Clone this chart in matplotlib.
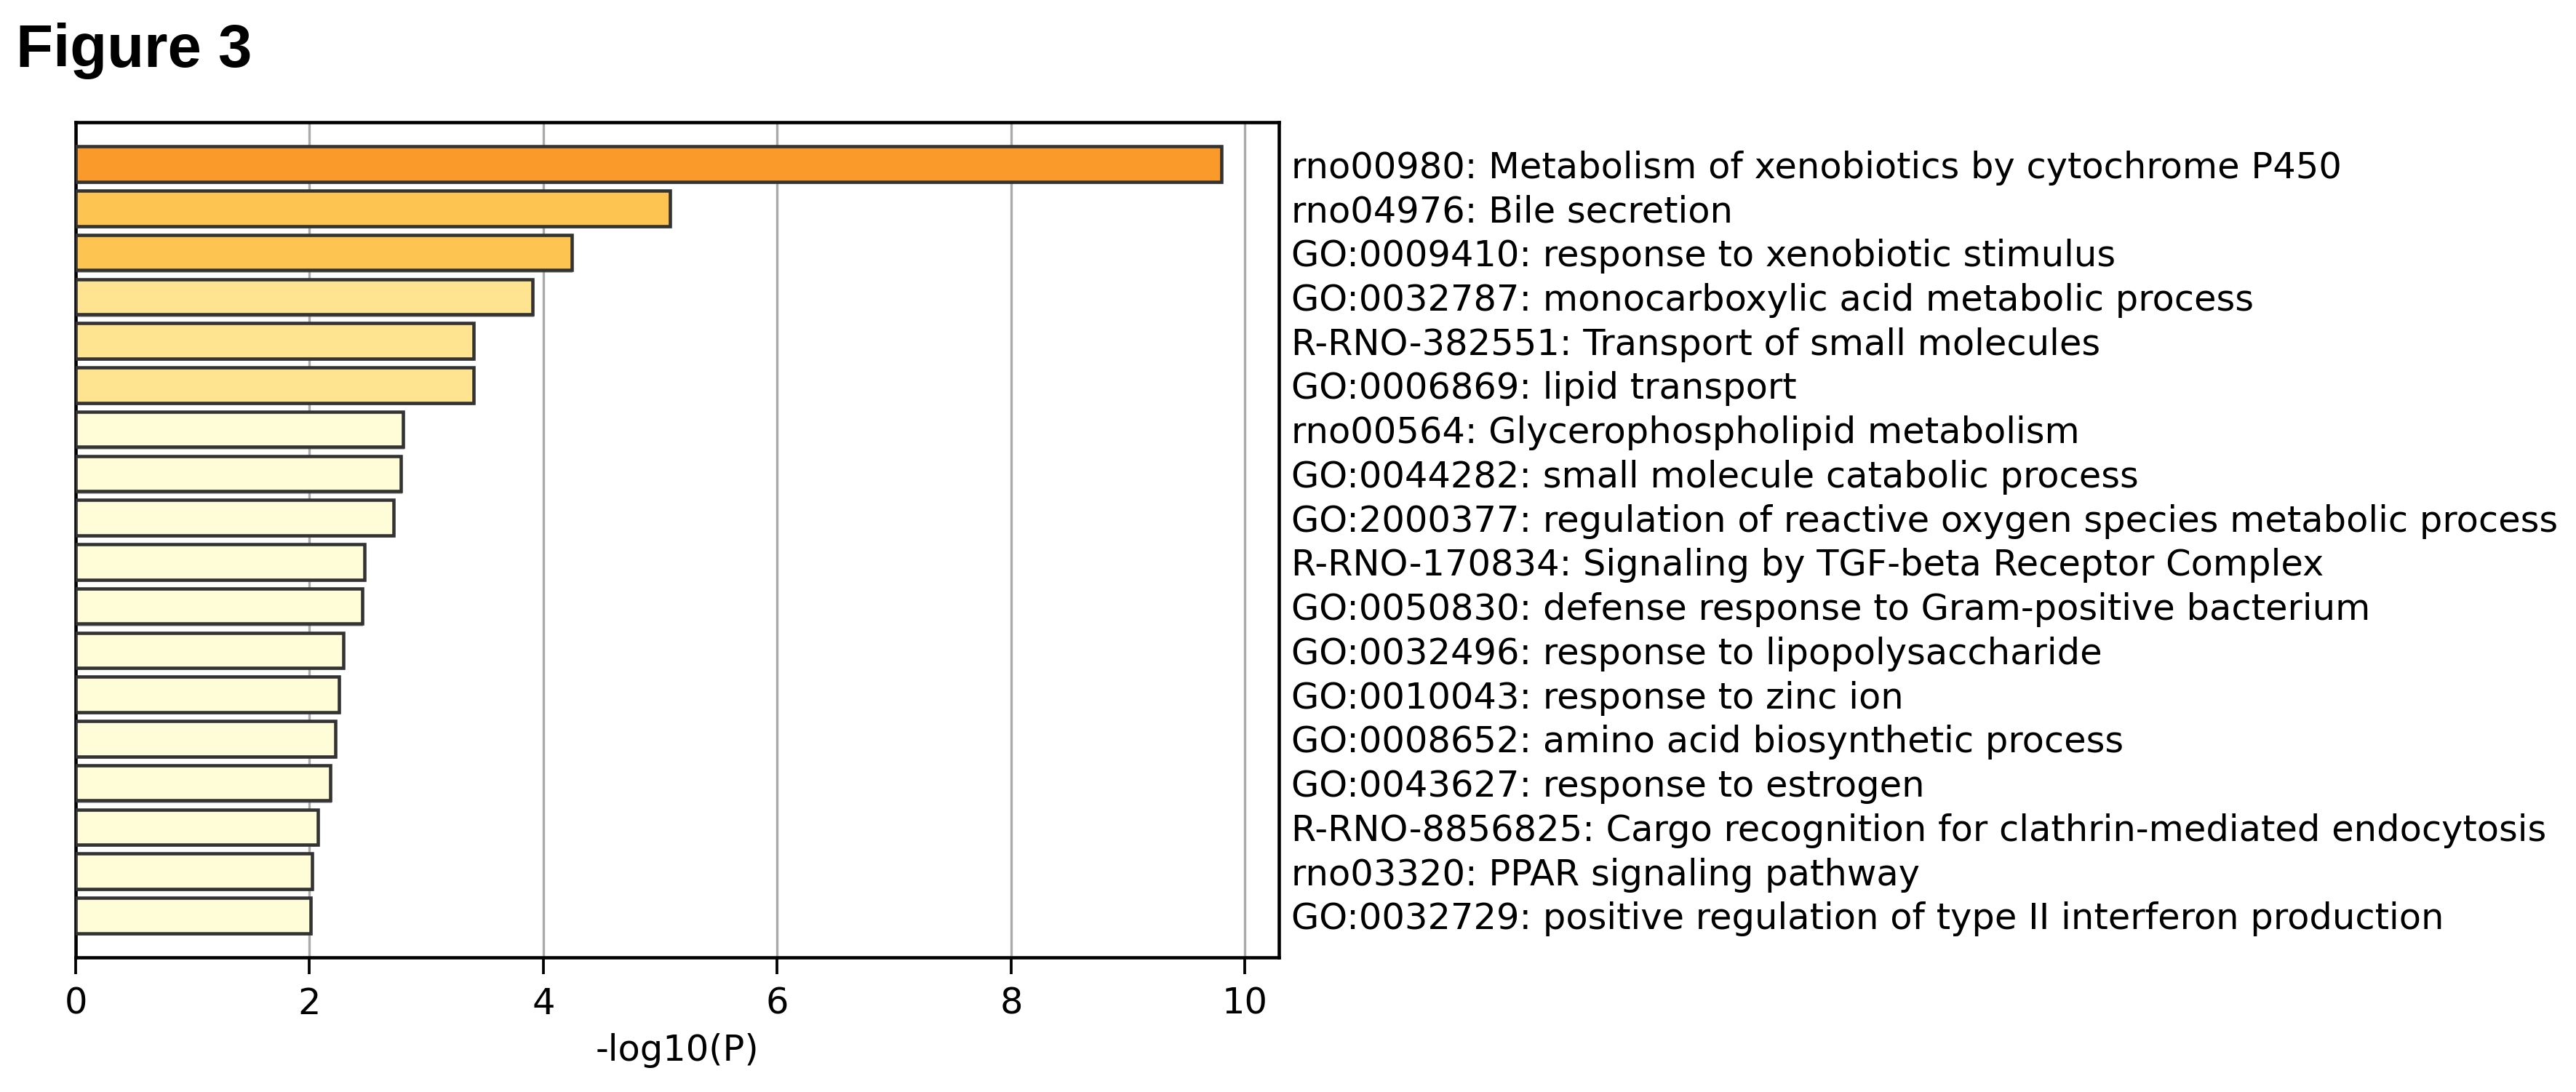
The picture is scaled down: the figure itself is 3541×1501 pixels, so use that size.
import numpy as np
import matplotlib
matplotlib.use("Agg")
import matplotlib.pyplot as plt
import matplotlib.patheffects as pe

# enrichment terms, top to bottom
terms = [
    "rno00980: Metabolism of xenobiotics by cytochrome P450",
    "rno04976: Bile secretion",
    "GO:0009410: response to xenobiotic stimulus",
    "GO:0032787: monocarboxylic acid metabolic process",
    "R-RNO-382551: Transport of small molecules",
    "GO:0006869: lipid transport",
    "rno00564: Glycerophospholipid metabolism",
    "GO:0044282: small molecule catabolic process",
    "GO:2000377: regulation of reactive oxygen species metabolic process",
    "R-RNO-170834: Signaling by TGF-beta Receptor Complex",
    "GO:0050830: defense response to Gram-positive bacterium",
    "GO:0032496: response to lipopolysaccharide",
    "GO:0010043: response to zinc ion",
    "GO:0008652: amino acid biosynthetic process",
    "GO:0043627: response to estrogen",
    "R-RNO-8856825: Cargo recognition for clathrin-mediated endocytosis",
    "rno03320: PPAR signaling pathway",
    "GO:0032729: positive regulation of type II interferon production",
]
logp = [9.80, 5.08, 4.24, 3.91, 3.40, 3.40, 2.80, 2.78, 2.72,
        2.47, 2.45, 2.29, 2.25, 2.22, 2.18, 2.07, 2.02, 2.01]

# colour class per bar (by significance bin)
bins = [0, 1, 1, 2, 2, 2, 3, 3, 3, 3, 3, 3, 3, 3, 3, 3, 3, 3]
palette = ["#F99A2B", "#FDC452", "#FEE391", "#FFFDD8"]

fig = plt.figure(figsize=(3541 / 300, 1501 / 300), dpi=300)
ax = fig.add_axes([104 / 3541, 1 - 1316 / 1501, (1758 - 104) / 3541, (1316 - 168) / 1501])

ypos = np.arange(len(terms))
colors = [palette[b] for b in bins]
bars = ax.barh(ypos, logp, height=0.8, color=colors, edgecolor="#333333",
               linewidth=1.1, zorder=3)
for b in bars:
    b.set_path_effects([pe.SimplePatchShadow(offset=(0.4, -0.8), shadow_rgbFace="#555555", alpha=0.45),
                        pe.Normal()])

ax.set_ylim(len(terms) - 0.05, -0.95)
ax.set_xlim(0, max(logp) * 1.05)
ax.set_xticks([0, 2, 4, 6, 8, 10])
ax.xaxis.grid(True, color="#aaaaaa", linewidth=0.8, zorder=0)
ax.set_axisbelow(True)

ax.yaxis.tick_right()
ax.set_yticks(ypos)
ax.set_yticklabels(terms, fontsize=11.9)
ax.tick_params(axis="y", length=0, pad=4)
ax.tick_params(axis="x", labelsize=11.9, length=5.5, width=0.9, pad=4)

for s in ax.spines.values():
    s.set_linewidth(1.1)
    s.set_color("black")

ax.set_xlabel("-log10(P)", fontsize=11.9, labelpad=4)

fig.text(22 / 3541, 1 - 92 / 1501, "Figure 3", fontsize=20, fontweight="bold",
         family="Liberation Sans", va="baseline", ha="left")

fig.savefig("out.png", dpi=300, facecolor="white")
